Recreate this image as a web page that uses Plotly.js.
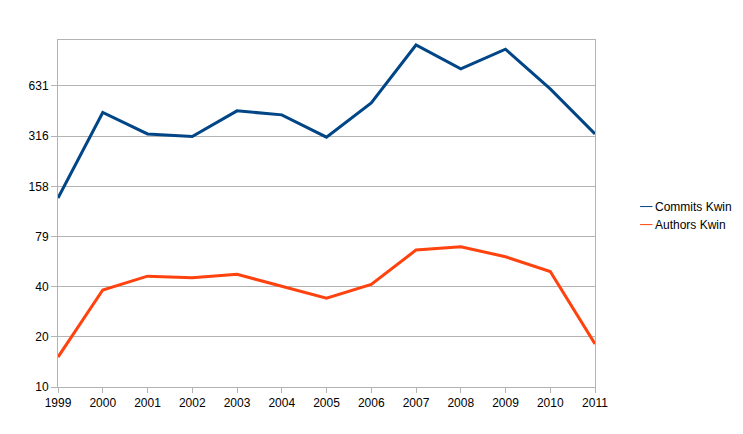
<!DOCTYPE html>
<html>
<head>
<meta charset="utf-8">
<script src="https://cdn.plot.ly/plotly-3.0.1.min.js"></script>
<style>
  html, body { margin: 0; padding: 0; background: #ffffff; }
  #chart { width: 743px; height: 434px; }
</style>
</head>
<body>
<div id="chart"></div>
<script>
// Yearly activity of the KWin project
const years = [1999, 2000, 2001, 2002, 2003, 2004, 2005, 2006, 2007, 2008, 2009, 2010, 2011];
const commitsKwin = [135, 438, 326, 315, 448, 424, 312, 500, 1109, 798, 1047, 606, 326];
const authorsKwin = [15.1, 38, 46, 45, 47.2, 40.2, 34, 41.1, 65.9, 69, 60.1, 49, 18.1];

// Log-scale ticks every 0.3 decades
const yTickVals = [10, 19.95, 39.81, 79.43, 158.5, 316.2, 631];
const yTickText = ['10', '20', '40', '79', '158', '316', '631'];

const seriesNames = ['Commits Kwin', 'Authors Kwin'];
const seriesColors = ['#004586', '#ff420e'];

const font = { family: 'Liberation Sans, Arial, sans-serif', size: 12, color: '#000000' };
const gridColor = '#b3b3b3';

const traces = [commitsKwin, authorsKwin].map((vals, i) => ({
  type: 'scatter',
  mode: 'lines',
  x: years,
  y: vals,
  name: seriesNames[i],
  line: { color: seriesColors[i], width: 3 },
  showlegend: false,
  hoverinfo: 'x+y'
}));

// Compact legend: short thin line swatch plus label
const legendShapes = seriesNames.map((n, i) => ({
  type: 'line', xref: 'paper', yref: 'paper',
  x0: 1.084, x1: 1.107,
  y0: 0.52 - i * 0.052, y1: 0.52 - i * 0.052,
  line: { color: seriesColors[i], width: 1 }
}));
const legendText = seriesNames.map((n, i) => ({
  xref: 'paper', yref: 'paper',
  x: 1.108, y: 0.52 - i * 0.052,
  xanchor: 'left', yanchor: 'middle',
  text: n, showarrow: false,
  font: font
}));

const layout = {
  width: 743, height: 434,
  margin: { l: 58, r: 148, t: 40, b: 47 },
  paper_bgcolor: '#ffffff',
  plot_bgcolor: '#ffffff',
  font: font,
  showlegend: false,
  xaxis: {
    range: [1999, 2011],
    tickvals: years,
    ticktext: years.map(String),
    showgrid: false,
    zeroline: false,
    showline: true, mirror: true,
    linecolor: gridColor, linewidth: 1,
    ticks: 'outside', ticklen: 5, tickcolor: gridColor,
    tickfont: font
  },
  yaxis: {
    type: 'log',
    range: [1, 3.075],
    tickvals: yTickVals,
    ticktext: yTickText,
    showgrid: true, gridcolor: gridColor, gridwidth: 1,
    zeroline: false,
    showline: true, mirror: true,
    linecolor: gridColor, linewidth: 1,
    ticks: 'outside', ticklen: 6, tickcolor: gridColor,
    tickfont: font
  },
  shapes: legendShapes,
  annotations: legendText
};

Plotly.newPlot('chart', traces, layout, { displayModeBar: false, staticPlot: true });
</script>
</body>
</html>
